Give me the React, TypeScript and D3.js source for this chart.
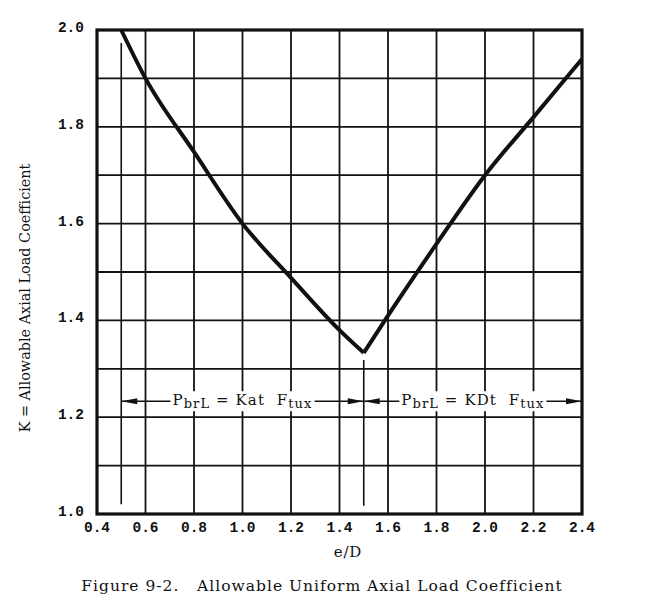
import { useRef, useEffect } from 'react';
import * as d3 from 'd3';

// e/D ticks and K ticks
const xTicks = [0.4, 0.6, 0.8, 1.0, 1.2, 1.4, 1.6, 1.8, 2.0, 2.2, 2.4];
const yTicks = [1.0, 1.2, 1.4, 1.6, 1.8, 2.0];
const yGrid = [1.1, 1.2, 1.3, 1.4, 1.5, 1.6, 1.7, 1.8, 1.9];

// left branch (P = Kat Ftux) and right branch (P = KDt Ftux)
const leftE = [0.5, 0.6, 0.8, 1.0, 1.2, 1.4, 1.5];
const leftK = [2.0, 1.9, 1.748, 1.6, 1.488, 1.38, 1.333];
const rightE = [1.5, 1.6, 1.8, 2.0, 2.2, 2.4];
const rightK = [1.333, 1.41, 1.558, 1.7, 1.82, 1.94];

// boundary markers
const markerE = [0.5, 1.5];
const markerTop = [1.973, 1.318];
const markerBottom = [1.02, 1.017];

// dimension arrows
const spanFrom = [0.5, 1.5];
const spanTo = [1.5, 2.4];
const spanMid = ['Kat', 'KDt'];
const spanK = 1.233;

export default function App() {
  const svgRef = useRef<SVGSVGElement>(null);

  useEffect(() => {
    if (!svgRef.current) return;
    const svg = d3.select(svgRef.current);
    svg.selectAll('*').remove();

    const x = d3.scaleLinear().domain([0.4, 2.4]).range([97, 582]);
    const y = d3.scaleLinear().domain([1.0, 2.0]).range([514, 30]);
    const ink = '#111';
    const serif = 'DejaVu Serif';
    const mono = 'Liberation Mono';

    const g = svg.append('g');

    // grid
    g.selectAll('.vgrid')
      .data(xTicks.slice(1, -1))
      .enter()
      .append('line')
      .attr('x1', (d) => x(d))
      .attr('x2', (d) => x(d))
      .attr('y1', y(2.0))
      .attr('y2', y(1.0))
      .attr('stroke', ink)
      .attr('stroke-width', 1.8);

    g.selectAll('.hgrid')
      .data(yGrid)
      .enter()
      .append('line')
      .attr('x1', x(0.4))
      .attr('x2', x(2.4))
      .attr('y1', (d) => y(d))
      .attr('y2', (d) => y(d))
      .attr('stroke', ink)
      .attr('stroke-width', 1.8);

    // boundary markers
    g.selectAll('.marker')
      .data(markerE)
      .enter()
      .append('line')
      .attr('x1', (d) => x(d))
      .attr('x2', (d) => x(d))
      .attr('y1', (_, i) => y(markerTop[i]))
      .attr('y2', (_, i) => y(markerBottom[i]))
      .attr('stroke', ink)
      .attr('stroke-width', 1.6);

    // frame
    g.append('rect')
      .attr('x', x(0.4))
      .attr('y', y(2.0))
      .attr('width', x(2.4) - x(0.4))
      .attr('height', y(1.0) - y(2.0))
      .attr('fill', 'none')
      .attr('stroke', ink)
      .attr('stroke-width', 3.2);

    // dimension labels with arrows
    spanFrom.forEach((from, i) => {
      const to = spanTo[i];
      const cx = (x(from) + x(to)) / 2;
      const yA = y(spanK);
      const t = g
        .append('text')
        .attr('x', cx)
        .attr('y', yA + 4)
        .attr('text-anchor', 'middle')
        .attr('font-family', serif)
        .attr('font-size', 15)
        .attr('fill', ink)
        .style('letter-spacing', '1.1px')
        .style('white-space', 'pre');
      t.append('tspan').text('P');
      t.append('tspan').attr('font-size', 13).attr('dy', 3).text('brL');
      t.append('tspan').attr('dy', -3).text(` = ${spanMid[i]}  F`);
      t.append('tspan').attr('font-size', 13).attr('dy', 3).text('tux');
      const bb = (t.node() as SVGTextElement).getBBox();
      g.insert('rect', 'text')
        .attr('x', bb.x - 2)
        .attr('y', bb.y)
        .attr('width', bb.width + 4)
        .attr('height', bb.height)
        .attr('fill', '#fff');

      const x0 = x(from);
      const x1 = x(to);
      g.append('line')
        .attr('x1', x0)
        .attr('x2', bb.x - 2)
        .attr('y1', yA)
        .attr('y2', yA)
        .attr('stroke', ink)
        .attr('stroke-width', 1.5);
      g.append('line')
        .attr('x1', bb.x + bb.width + 2)
        .attr('x2', x1)
        .attr('y1', yA)
        .attr('y2', yA)
        .attr('stroke', ink)
        .attr('stroke-width', 1.5);
      const head = (tip: number, dir: number) =>
        `M${tip},${yA} L${tip + dir * 16},${yA - 3} L${tip + dir * 16},${yA + 3} Z`;
      g.append('path').attr('d', head(x0, 1)).attr('fill', ink);
      g.append('path').attr('d', head(x1, -1)).attr('fill', ink);
    });

    // curve
    const line = d3
      .line<number>()
      .x((d) => x(d))
      .curve(d3.curveMonotoneX);
    g.append('path')
      .attr('d', line.y((_, i) => y(leftK[i]))(leftE))
      .attr('fill', 'none')
      .attr('stroke', ink)
      .attr('stroke-width', 4)
      .attr('stroke-linejoin', 'round');
    g.append('path')
      .attr('d', line.y((_, i) => y(rightK[i]))(rightE))
      .attr('fill', 'none')
      .attr('stroke', ink)
      .attr('stroke-width', 4)
      .attr('stroke-linejoin', 'round');

    // tick labels
    g.selectAll('.xlab')
      .data(xTicks)
      .enter()
      .append('text')
      .attr('x', (d) => x(d))
      .attr('y', 532)
      .attr('text-anchor', 'middle')
      .attr('font-family', mono)
      .attr('font-weight', 'bold')
      .attr('font-size', 14.5)
      .attr('fill', ink)
      .text((d) => d3.format('.1f')(d));

    g.selectAll('.ylab')
      .data(yTicks)
      .enter()
      .append('text')
      .attr('x', 84)
      .attr('y', (d) => y(d) + 2)
      .attr('text-anchor', 'end')
      .attr('font-family', mono)
      .attr('font-weight', 'bold')
      .attr('font-size', 14.5)
      .attr('fill', ink)
      .text((d) => d3.format('.1f')(d));

    // axis titles
    g.append('text')
      .attr('x', 348)
      .attr('y', 557)
      .attr('text-anchor', 'middle')
      .attr('font-family', serif)
      .attr('font-size', 15)
      .attr('fill', ink)
      .style('letter-spacing', '0.8px')
      .text('e/D');

    g.append('text')
      .attr('transform', 'translate(30,298) rotate(-90)')
      .attr('text-anchor', 'middle')
      .attr('font-family', serif)
      .attr('font-size', 14.4)
      .attr('fill', ink)
      .text('K = Allowable Axial Load Coefficient');

    g.append('text')
      .attr('x', 322)
      .attr('y', 591)
      .attr('text-anchor', 'middle')
      .attr('font-family', serif)
      .attr('font-size', 15.5)
      .attr('fill', ink)
      .style('letter-spacing', '1px')
      .style('white-space', 'pre')
      .text('Figure 9-2.   Allowable Uniform Axial Load Coefficient');
  }, []);

  return (
    <svg
      ref={svgRef}
      width={654}
      height={605}
      style={{ position: 'absolute', left: 0, top: 0, background: '#fff' }}
    />
  );
}
